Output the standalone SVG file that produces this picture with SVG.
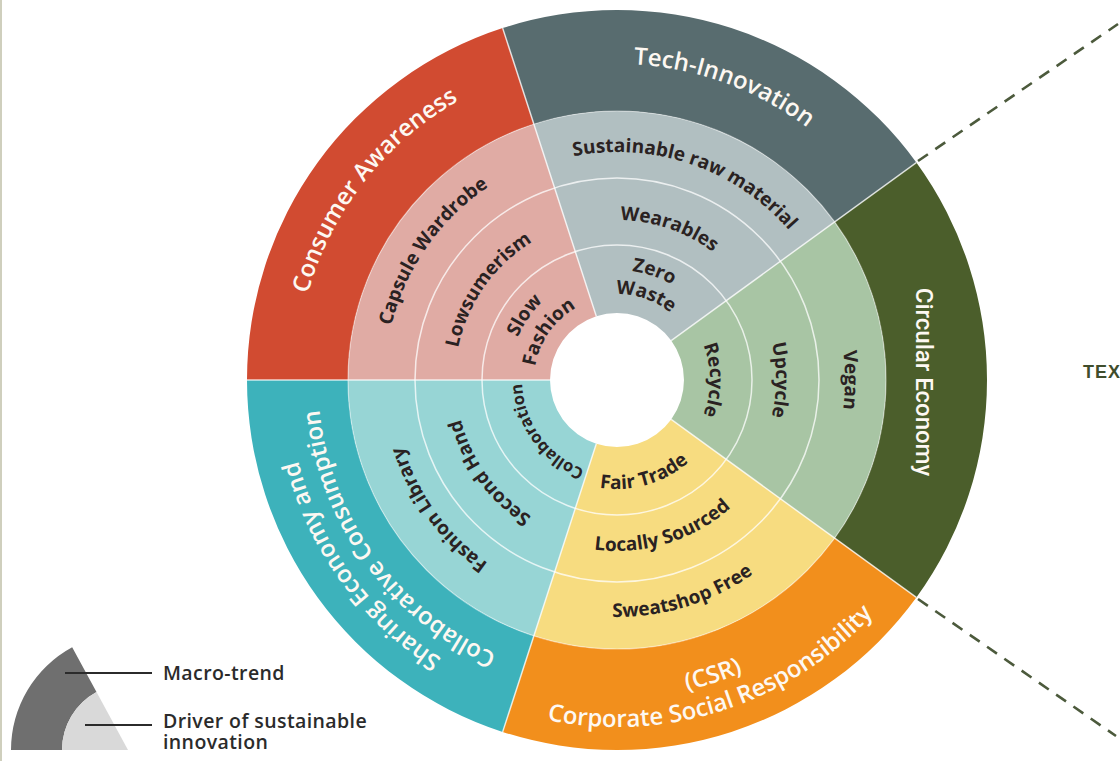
<svg xmlns="http://www.w3.org/2000/svg" width="1120" height="761" viewBox="0 0 1120 761">
<style>
.rt{font-family:"Open Sans","Liberation Sans",sans-serif;font-weight:700;font-size:19px;fill:#2a2222}
.mt{font-family:"Open Sans","Liberation Sans",sans-serif;font-weight:600;font-size:24px;fill:#fdf8f2}
.lg{font-family:"Open Sans","Liberation Sans",sans-serif;font-weight:600;font-size:19.5px;fill:#2b2b2b;letter-spacing:0.4px}
.sep{stroke:#ffffff;stroke-opacity:0.75;stroke-width:1.5;fill:none}
.dash{stroke:#4c5a3c;stroke-width:2.6;stroke-dasharray:12 9;fill:none}
</style>
<defs>
<path id="p-ca" d="M 298.39,419.12 A 321 321 0 0 1 577.88,61.39"/>
<path id="p-ti" d="M 483.45,93.61 A 316 316 0 0 1 903.39,246.45"/>
<path id="p-se1" d="M 565.53,704.95 A 329 329 0 0 1 292.05,328.53"/>
<path id="p-se2" d="M 570.23,675.32 A 299 299 0 0 1 321.68,333.23"/>
<path id="p-csr1" d="M 472.63,663.34 A 318 318 0 0 0 900.34,524.37"/>
<path id="p-csr2" d="M 459.47,689.18 A 347 347 0 0 0 926.18,537.53"/>
<path id="p-cw" d="M 388.52,420.29 A 232 232 0 0 1 576.71,151.52"/>
<path id="p-lo" d="M 457.46,408.13 A 162 162 0 0 1 588.87,220.46"/>
<path id="p-sl" d="M 510.64,398.75 A 108 108 0 0 1 598.25,273.64"/>
<path id="p-fa" d="M 535.26,394.41 A 83 83 0 0 1 602.59,298.26"/>
<path id="p-su" d="M 517.05,175.08 A 228 228 0 0 1 821.92,280.05"/>
<path id="p-we" d="M 546.86,236.19 A 160 160 0 0 1 760.81,309.86"/>
<path id="p-ze" d="M 568.78,281.13 A 110 110 0 0 1 715.87,331.78"/>
<path id="p-wa" d="M 579.30,302.70 A 86 86 0 0 1 694.30,342.30"/>
<path id="p-re" d="M 682.76,314.24 A 93 93 0 0 1 682.76,445.76"/>
<path id="p-up" d="M 729.43,267.57 A 159 159 0 0 1 729.43,492.43"/>
<path id="p-ve" d="M 778.22,218.78 A 228 228 0 0 1 778.22,541.22"/>
<path id="p-ft" d="M 564.16,475.33 A 109 109 0 0 0 712.33,432.84"/>
<path id="p-ls" d="M 536.72,530.98 A 171 171 0 0 0 767.98,460.28"/>
<path id="p-sf" d="M 505.73,589.26 A 237 237 0 0 0 826.26,491.27"/>
<path id="p-co" d="M 602.14,473.83 A 95 95 0 0 1 523.17,365.14"/>
<path id="p-sh" d="M 591.81,539.02 A 161 161 0 0 1 457.98,354.81"/>
<path id="p-fl" d="M 581.96,601.24 A 224 224 0 0 1 395.76,344.96"/>
</defs>
<rect x="0" y="0" width="1120" height="761" fill="#ffffff"/>
<rect x="0" y="0" width="2" height="761" fill="#cfcfbd"/>

<g id="circular-economy">
<path d="M 916.34,162.52 A 370 370 0 0 1 916.34,597.48 L 834.63,538.11 A 269 269 0 0 0 834.63,221.89 Z" fill="#4b5e2b"/>
<path d="M 834.63,221.89 A 269 269 0 0 1 834.63,538.11 L 671.20,419.38 A 67 67 0 0 0 671.20,340.62 Z" fill="#a8c5a4"/>
<text transform="translate(916,382) rotate(90)" text-anchor="middle" font-family="Roboto,'Liberation Sans',sans-serif" font-weight="500" font-size="24" fill="#fdf8f2">Circular Economy</text>
<text class="rt"><textPath href="#p-re" startOffset="50%" text-anchor="middle">Recycle</textPath></text>
<text class="rt"><textPath href="#p-up" startOffset="50%" text-anchor="middle">Upcycle</textPath></text>
<text class="rt"><textPath href="#p-ve" startOffset="50%" text-anchor="middle">Vegan</textPath></text>
</g>

<g id="csr">
<path d="M 916.34,597.48 A 370 370 0 0 1 502.66,731.89 L 533.87,635.83 A 269 269 0 0 0 834.63,538.11 Z" fill="#f28f1c"/>
<path d="M 834.63,538.11 A 269 269 0 0 1 533.87,635.83 L 596.30,443.72 A 67 67 0 0 0 671.20,419.38 Z" fill="#f7dc80"/>
<text class="mt"><textPath href="#p-csr1" startOffset="50%" text-anchor="middle">(CSR)</textPath></text>
<text class="mt"><textPath href="#p-csr2" startOffset="50%" text-anchor="middle">Corporate Social Responsibility</textPath></text>
<text class="rt"><textPath href="#p-ft" startOffset="50%" text-anchor="middle">Fair Trade</textPath></text>
<text class="rt"><textPath href="#p-ls" startOffset="50%" text-anchor="middle">Locally Sourced</textPath></text>
<text class="rt"><textPath href="#p-sf" startOffset="50%" text-anchor="middle">Sweatshop Free</textPath></text>
</g>

<g id="sharing-economy">
<path d="M 502.66,731.89 A 370 370 0 0 1 247,380 L 348,380 A 269 269 0 0 0 533.87,635.83 Z" fill="#3db2bb"/>
<path d="M 533.87,635.83 A 269 269 0 0 1 348,380 L 550,380 A 67 67 0 0 0 596.30,443.72 Z" fill="#97d5d5"/>
<text class="mt"><textPath href="#p-se1" startOffset="50%" text-anchor="middle">Sharing Economy and</textPath></text>
<text class="mt"><textPath href="#p-se2" startOffset="50%" text-anchor="middle">Collaborative Consumption</textPath></text>
<text class="rt" style="font-size:16.5px"><textPath href="#p-co" startOffset="50%" text-anchor="middle">Collaboration</textPath></text>
<text class="rt"><textPath href="#p-sh" startOffset="50%" text-anchor="middle">Second Hand</textPath></text>
<text class="rt"><textPath href="#p-fl" startOffset="50%" text-anchor="middle">Fashion Library</textPath></text>
</g>

<g id="consumer-awareness">
<path d="M 247,380 A 370 370 0 0 1 502.66,28.11 L 533.87,124.17 A 269 269 0 0 0 348,380 Z" fill="#d14b31"/>
<path d="M 348,380 A 269 269 0 0 1 533.87,124.17 L 596.30,316.28 A 67 67 0 0 0 550,380 Z" fill="#e0aba4"/>
<text class="mt"><textPath href="#p-ca" startOffset="50%" text-anchor="middle">Consumer Awareness</textPath></text>
<text class="rt"><textPath href="#p-cw" startOffset="50%" text-anchor="middle">Capsule Wardrobe</textPath></text>
<text class="rt"><textPath href="#p-lo" startOffset="50%" text-anchor="middle">Lowsumerism</textPath></text>
<text class="rt"><textPath href="#p-sl" startOffset="50%" text-anchor="middle">Slow</textPath></text>
<text class="rt"><textPath href="#p-fa" startOffset="50%" text-anchor="middle">Fashion</textPath></text>
</g>

<g id="tech-innovation">
<path d="M 502.66,28.11 A 370 370 0 0 1 916.34,162.52 L 834.63,221.89 A 269 269 0 0 0 533.87,124.17 Z" fill="#586c6f"/>
<path d="M 533.87,124.17 A 269 269 0 0 1 834.63,221.89 L 671.20,340.62 A 67 67 0 0 0 596.30,316.28 Z" fill="#b1bfc1"/>
<text class="mt"><textPath href="#p-ti" startOffset="50%" text-anchor="middle">Tech-Innovation</textPath></text>
<text class="rt"><textPath href="#p-su" startOffset="50%" text-anchor="middle">Sustainable raw material</textPath></text>
<text class="rt"><textPath href="#p-we" startOffset="50%" text-anchor="middle">Wearables</textPath></text>
<text class="rt"><textPath href="#p-ze" startOffset="50%" text-anchor="middle">Zero</textPath></text>
<text class="rt"><textPath href="#p-wa" startOffset="50%" text-anchor="middle">Waste</textPath></text>
</g>

<g id="separators">
<circle class="sep" cx="617" cy="380" r="135"/>
<circle class="sep" cx="617" cy="380" r="202"/>
<circle class="sep" cx="617" cy="380" r="269" style="stroke-opacity:0.45;stroke-width:1.2"/>
<path class="sep" d="M 671.20,340.62 L 916.34,162.52 M 671.20,419.38 L 916.34,597.48 M 596.30,443.72 L 502.66,731.89 M 550,380 L 247,380 M 596.30,316.28 L 502.66,28.11"/>
</g>

<g id="connectors">
<path class="dash" d="M 918,161 L 1118,24"/>
<path class="dash" d="M 918,599 L 1116,736"/>
</g>

<g id="text-label">
<text x="1083" y="378" font-family="'Liberation Sans',Arial,sans-serif" font-weight="700" font-size="18" letter-spacing="1" fill="#3f4d2c">TEX</text>
</g>

<g id="legend">
<path d="M 11,750 A 117 117 0 0 1 72.17,647.18 L 96.51,692 A 66 66 0 0 0 62,750 Z" fill="#6f6f6f"/>
<path d="M 62,750 A 66 66 0 0 1 96.51,692 L 128,750 Z" fill="#d9d9d9"/>
<line x1="65" y1="673" x2="152" y2="673" stroke="#2b2b2b" stroke-width="2"/>
<line x1="85" y1="725" x2="152" y2="725" stroke="#2b2b2b" stroke-width="2"/>
<text class="lg" x="163" y="680">Macro-trend</text>
<text class="lg" x="163" y="728">Driver of sustainable</text>
<text class="lg" x="163" y="749">innovation</text>
</g>
</svg>
